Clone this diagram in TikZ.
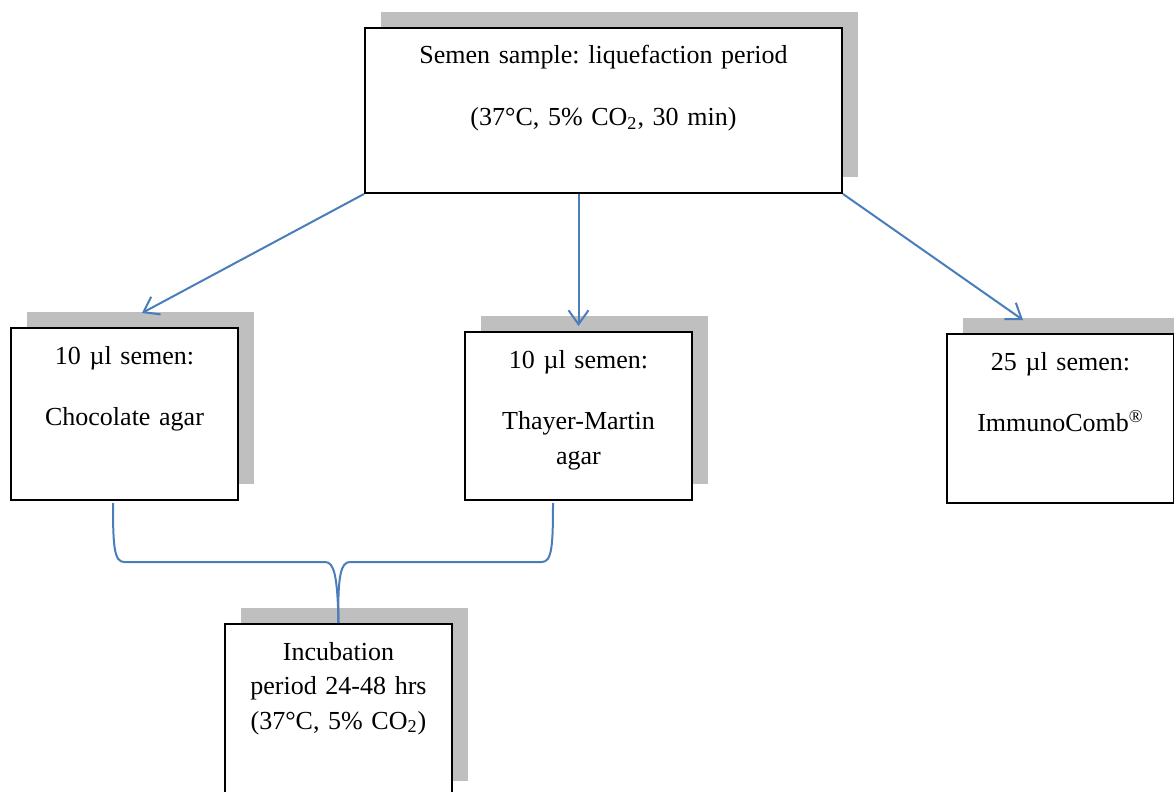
\documentclass[tikz,border=0pt]{standalone}
\usepackage{fontspec}
\setmainfont{Liberation Serif}
\usetikzlibrary{shadows, arrows.meta, positioning}
\definecolor{linkblue}{HTML}{4A7EBB}
\definecolor{shade}{HTML}{BFBFBF}
\frenchspacing

\begin{document}
\begin{tikzpicture}[x=0.5pt, y=-0.5pt, box/.style={rectangle, draw, line width=1pt,
    fill=white, anchor=north west, inner sep=0pt, align=center, text height=18pt,
    font=\fontsize{13}{17.25}\selectfont,
    drop shadow={shadow xshift=8pt, shadow yshift=8pt, fill=shade, opacity=1}},
    link/.style={draw=linkblue, line width=1pt}, >={Straight Barb[length=7pt,width=10pt]}]

  \useasboundingbox (0,0) rectangle (1174,792);
  \node[box, text width=238.5pt, text depth=64.5pt] (Sample) at (364,27) {Semen sample: liquefaction period\\[13.5pt] (37°C, 5\% CO\textsubscript{2}, 30 min)};
  \node[box, text width=113.5pt, text depth=68pt] (Choc) at (10,327) {10 µl semen:\\[13.5pt] Chocolate agar};
  \node[box, text width=113.5pt, text depth=66pt] (Thayer) at (464,331) {10 µl semen:\\[13.5pt] Thayer-Martin\\ agar};
  \node[box, text width=113.5pt, text depth=66.5pt] (Immuno) at (946,333) {25 µl semen:\\[13.5pt] ImmunoComb\textsuperscript{®}};
  \node[box, text width=113.5pt, text depth=68.5pt] (Incub) at (224,623) {Incubation\\ period 24-48 hrs\\ (37°C, 5\% CO\textsubscript{2})};
  \coordinate (ChocIn) at (142,313);
  \coordinate (ImmunoIn) at (1023,320);
  \coordinate (BraceL) at (113,503);
  \coordinate (BraceR) at (553,503);
  \draw[link,->] (Sample.south west) -- (ChocIn);
  \draw[link,->] (Sample.south -| Thayer.north) -- ([yshift=2.5pt]Thayer.north);
  \draw[link,->] (Sample.south east) -- (ImmunoIn);
  \draw[link] (BraceL) .. controls (113,545) and (114,562) .. (124,562) -- (325,562) .. controls (334,562) and (337.5,575) .. (Incub.north);
  \draw[link] (BraceR) .. controls (553,545) and (552,562) .. (542,562) -- (350,562) .. controls (341,562) and (337.5,575) .. (Incub.north);
\end{tikzpicture}
\end{document}
